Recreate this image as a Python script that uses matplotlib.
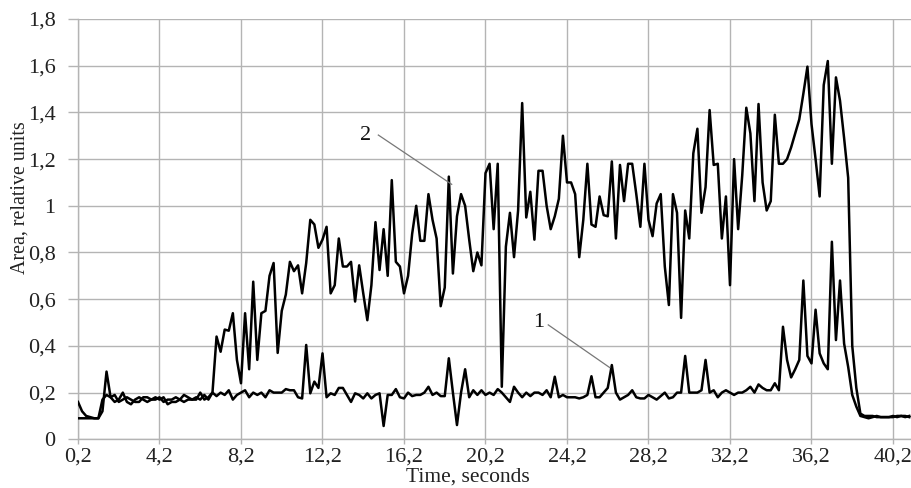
import matplotlib
matplotlib.use("Agg")
import matplotlib.pyplot as plt
from matplotlib.ticker import FixedLocator

plt.rcParams['font.family'] = ['Liberation Serif', 'DejaVu Serif']

t_start = 0.2
t_step = 0.2

series1 = [
    0.16, 0.12, 0.10, 0.095, 0.09, 0.09, 0.17, 0.19, 0.18, 0.16,
    0.17, 0.20, 0.16, 0.15, 0.17, 0.18, 0.17, 0.16, 0.17, 0.18,
    0.17, 0.18, 0.15, 0.16, 0.16, 0.17, 0.19, 0.18, 0.17, 0.17,
    0.20, 0.17, 0.18, 0.20, 0.185, 0.20, 0.19, 0.21, 0.17, 0.19,
    0.20, 0.21, 0.18, 0.20, 0.19, 0.20, 0.18, 0.21, 0.20, 0.20,
    0.20, 0.215, 0.21, 0.21, 0.18, 0.175, 0.404, 0.197, 0.247, 0.22,
    0.368, 0.18, 0.197, 0.19, 0.22, 0.22, 0.19, 0.16, 0.197, 0.19,
    0.175, 0.197, 0.175, 0.19, 0.197, 0.057, 0.19, 0.19, 0.215, 0.18,
    0.175, 0.20, 0.185, 0.19, 0.19, 0.20, 0.225, 0.19, 0.20, 0.185,
    0.185, 0.347, 0.20, 0.061, 0.20, 0.30, 0.18, 0.21, 0.19, 0.21,
    0.19, 0.20, 0.19, 0.215, 0.20, 0.18, 0.16, 0.225, 0.20, 0.18,
    0.20, 0.185, 0.20, 0.20, 0.19, 0.21, 0.18, 0.268, 0.18, 0.19,
    0.18, 0.18, 0.18, 0.175, 0.18, 0.19, 0.27, 0.18, 0.18, 0.20,
    0.22, 0.318, 0.20, 0.17, 0.18, 0.19, 0.21, 0.18, 0.175, 0.175,
    0.19, 0.18, 0.17, 0.185, 0.20, 0.175, 0.18, 0.20, 0.20, 0.357,
    0.20, 0.20, 0.20, 0.21, 0.34, 0.20, 0.21, 0.18, 0.20, 0.21,
    0.20, 0.19, 0.20, 0.20, 0.21, 0.225, 0.20, 0.235, 0.22, 0.21,
    0.21, 0.24, 0.21, 0.482, 0.34, 0.265, 0.30, 0.34, 0.68, 0.357,
    0.325, 0.555, 0.368, 0.325, 0.30, 0.846, 0.425, 0.68, 0.41, 0.31,
    0.19, 0.14, 0.10, 0.095, 0.09, 0.095, 0.10, 0.095, 0.095, 0.095,
    0.095, 0.10, 0.10, 0.095, 0.10,
]

series2 = [
    0.09, 0.09, 0.09, 0.09, 0.09, 0.09, 0.12, 0.29, 0.18, 0.19,
    0.16, 0.17, 0.18, 0.17, 0.16, 0.16, 0.18, 0.18, 0.17, 0.17,
    0.18, 0.16, 0.17, 0.17, 0.18, 0.17, 0.16, 0.17, 0.17, 0.18,
    0.17, 0.19, 0.17, 0.20, 0.44, 0.375, 0.47, 0.465, 0.54, 0.34,
    0.24, 0.54, 0.30, 0.675, 0.34, 0.54, 0.55, 0.70, 0.755, 0.37,
    0.55, 0.62, 0.76, 0.72, 0.745, 0.625, 0.755, 0.94, 0.92, 0.82,
    0.855, 0.91, 0.625, 0.66, 0.86, 0.74, 0.74, 0.76, 0.59, 0.745,
    0.625, 0.51, 0.66, 0.93, 0.725, 0.90, 0.70, 1.11, 0.76, 0.74,
    0.625, 0.70, 0.88, 1.0, 0.85, 0.85, 1.05, 0.94, 0.86, 0.57,
    0.65, 1.125, 0.71, 0.955, 1.05, 1.0, 0.855, 0.72, 0.80, 0.745,
    1.14, 1.18, 0.90, 1.18, 0.225, 0.825, 0.97, 0.78, 0.98, 1.44,
    0.95, 1.06, 0.855, 1.15, 1.15, 1.0, 0.90, 0.955, 1.03, 1.30,
    1.10, 1.10, 1.05, 0.78, 0.94, 1.18, 0.92, 0.91, 1.04, 0.96,
    0.955, 1.19, 0.86, 1.175, 1.02, 1.18, 1.18, 1.05, 0.91, 1.18,
    0.94, 0.87, 1.01, 1.05, 0.74, 0.575, 1.05, 0.97, 0.52, 0.98,
    0.86, 1.225, 1.33, 0.97, 1.08, 1.41, 1.175, 1.18, 0.86, 1.04,
    0.66, 1.20, 0.90, 1.13, 1.42, 1.31, 1.02, 1.436, 1.10, 0.98,
    1.02, 1.39, 1.18, 1.18, 1.20, 1.25, 1.31, 1.37, 1.48, 1.596,
    1.35, 1.20, 1.04, 1.517, 1.62, 1.18, 1.55, 1.45, 1.29, 1.12,
    0.40, 0.22, 0.11, 0.10, 0.10, 0.10, 0.095, 0.095, 0.095, 0.095,
    0.10, 0.095, 0.10, 0.10, 0.095,
]

time = [round(t_start + t_step * i, 1) for i in range(len(series1))]

x_ticks = [0.2, 4.2, 8.2, 12.2, 16.2, 20.2, 24.2, 28.2, 32.2, 36.2, 40.2]
x_tick_labels = ["0,2", "4,2", "8,2", "12,2", "16,2", "20,2", "24,2", "28,2", "32,2", "36,2", "40,2"]
y_ticks = [0, 0.2, 0.4, 0.6, 0.8, 1.0, 1.2, 1.4, 1.6, 1.8]
y_tick_labels = ["0", "0,2", "0,4", "0,6", "0,8", "1", "1,2", "1,4", "1,6", "1,8"]

fig = plt.figure(figsize=(9.12, 4.88), dpi=100)
ax = fig.add_axes([78/912, 1 - 439.3/488, 1 - 78/912, (439.3 - 19)/488])

grid_c = '#b4b4b4'
ax.plot(time, series1, color='black', lw=1.8, zorder=3)
ax.plot(time, series2, color='black', lw=1.8, zorder=3)

ax.set_xlim(0.2, 0.2 + (912 - 78) / 20.375)
ax.set_ylim(0, 1.8)
ax.xaxis.set_major_locator(FixedLocator(x_ticks))
ax.set_xticklabels(x_tick_labels)
ax.yaxis.set_major_locator(FixedLocator(y_ticks))
ax.set_yticklabels(y_tick_labels)
ax.grid(True, color=grid_c, lw=1.0, zorder=0)
for s in ['top', 'right']:
    ax.spines[s].set_visible(False)
for s in ['left', 'bottom']:
    ax.spines[s].set_color(grid_c)
    ax.spines[s].set_linewidth(1.0)
ax.tick_params(axis='y', length=7.2, width=1.0, color=grid_c, pad=9,
               labelsize=16, labelcolor='#222222')
ax.tick_params(axis='x', length=3.6, width=1.0, color=grid_c, pad=2,
               labelsize=16, labelcolor='#222222')

# annotations
ax.plot([14.94, 18.54], [1.303, 1.092], color='#777777', lw=0.9, zorder=4)
ax.text(14.3, 1.30, "2", fontsize=16, ha='center', va='center', color='#111111')
ax.plot([23.28, 26.3], [0.49, 0.307], color='#777777', lw=0.9, zorder=4)
ax.text(22.8, 0.50, "1", fontsize=16, ha='center', va='center', color='#111111')

fig.text(20/912, 1 - 198/488, "Area, relative units", rotation=90,
         ha='center', va='center', fontsize=14.4, color='#222222')
fig.text(468/912, 1 - 482/488, "Time, seconds", ha='center', va='baseline',
         fontsize=15.5, color='#222222')

fig.savefig("out.png", dpi=100)
